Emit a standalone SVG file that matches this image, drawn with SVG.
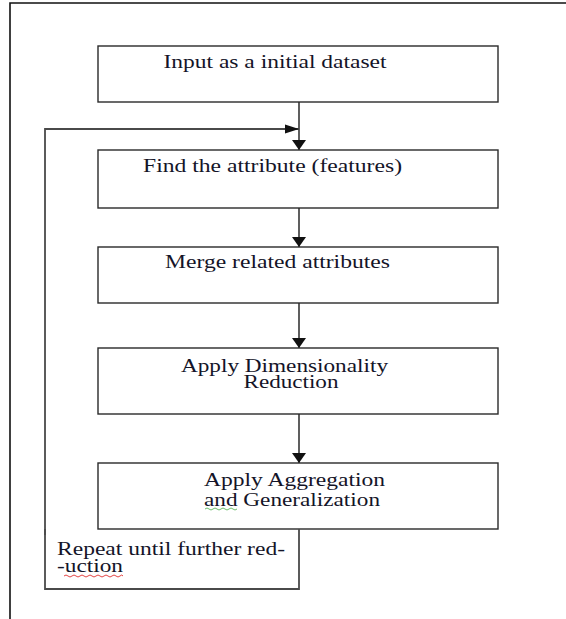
<svg xmlns="http://www.w3.org/2000/svg" width="566" height="619" viewBox="0 0 566 619">
<style>
  .box { fill: #fff; stroke: #2a2a2a; stroke-width: 1.4; }
  .lbl { font-family: "Liberation Serif", "Times New Roman", serif; font-size: 18px; fill: #141428; }
  .conn { fill: none; stroke: #1a1a1a; stroke-width: 1.4; }
  .loop { fill: none; stroke: #4a4a4a; stroke-width: 1.8; }
  .frame { fill: none; stroke: #111; stroke-width: 1.6; }
</style>
<defs>
  <marker id="ahDown" markerUnits="userSpaceOnUse" markerWidth="10" markerHeight="14" refX="10" refY="7" orient="auto">
    <path d="M0,0 L10,7 L0,14 z" fill="#111"/>
  </marker>
  <marker id="ahRight" markerUnits="userSpaceOnUse" markerWidth="14" markerHeight="10" refX="14" refY="5" orient="auto">
    <path d="M0,0.5 L14,5 L0,9.5 z" fill="#111"/>
  </marker>
</defs>
<rect width="566" height="619" fill="#fff"/>
<path class="frame" d="M10,619 L10,3 L566,3"/>

<g id="connectors">
  <line class="conn" x1="299" y1="102" x2="299" y2="150" marker-end="url(#ahDown)"/>
  <line class="conn" x1="299" y1="208" x2="299" y2="247" marker-end="url(#ahDown)"/>
  <line class="conn" x1="299" y1="303" x2="299" y2="348" marker-end="url(#ahDown)"/>
  <line class="conn" x1="299" y1="414" x2="299" y2="463" marker-end="url(#ahDown)"/>
  <path class="loop" d="M45,535 L45,129 L299,129" marker-end="url(#ahRight)"/>
</g>

<g id="node-input">
  <rect class="box" x="98" y="46" width="400" height="56"/>
  <text class="lbl" x="163.5" y="68" textLength="223" lengthAdjust="spacingAndGlyphs">Input as a initial dataset</text>
</g>
<g id="node-find">
  <rect class="box" x="98" y="150" width="400" height="58"/>
  <text class="lbl" x="143" y="172" textLength="259" lengthAdjust="spacingAndGlyphs">Find the attribute (features)</text>
</g>
<g id="node-merge">
  <rect class="box" x="98" y="247" width="400" height="56"/>
  <text class="lbl" x="165" y="268" textLength="225" lengthAdjust="spacingAndGlyphs">Merge related attributes</text>
</g>
<g id="node-dimred">
  <rect class="box" x="98" y="348" width="400" height="66"/>
  <text class="lbl" x="181" y="371.5" textLength="207" lengthAdjust="spacingAndGlyphs">Apply Dimensionality</text>
  <text class="lbl" x="243.5" y="388" textLength="95" lengthAdjust="spacingAndGlyphs">Reduction</text>
</g>
<g id="node-aggr">
  <rect class="box" x="98" y="463" width="400" height="66"/>
  <text class="lbl" x="204" y="486" textLength="181" lengthAdjust="spacingAndGlyphs">Apply Aggregation</text>
  <text class="lbl" x="204" y="505.5" textLength="176" lengthAdjust="spacingAndGlyphs">and Generalization</text>
  <path d="M205,509 q2,-2 4,0 t4,0 t4,0 t4,0 t4,0 t4,0 t4,0 t4,0" fill="none" stroke="#5cb85c" stroke-width="0.9"/>
</g>
<g id="node-repeat">
  <path class="loop" d="M299,529 L299,589 L45,589 L45,529"/>
  <text class="lbl" x="57" y="555" textLength="228" lengthAdjust="spacingAndGlyphs">Repeat until further red-</text>
  <text class="lbl" x="57" y="572" textLength="66" lengthAdjust="spacingAndGlyphs">-uction</text>
  <path d="M64,576 q2,-2 4,0 t4,0 t4,0 t4,0 t4,0 t4,0 t4,0 t4,0 t4,0 t4,0 t4,0 t4,0 t4,0 t4,0 t3,0" fill="none" stroke="#e03030" stroke-width="0.9"/>
</g>
</svg>
